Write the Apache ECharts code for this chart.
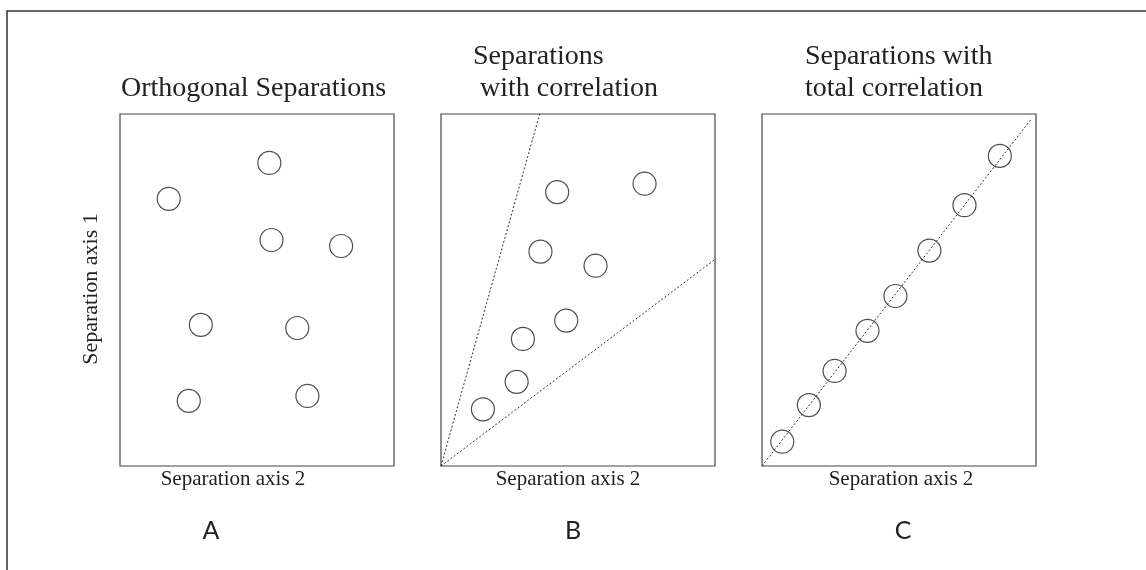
<!DOCTYPE html>
<html>
<head>
<meta charset="utf-8">
<title>Separations</title>
<script src="https://cdn.jsdelivr.net/npm/echarts@6/dist/echarts.min.js"></script>
<style>
  html, body { margin: 0; padding: 0; background: #fff; }
  #chart { width: 1146px; height: 570px; }
</style>
</head>
<body>
<div id="chart"></div>
<script>
// points in axis units, 0..100 on both axes of each panel
var pointsA = [[54.5, 86.1], [17.8, 75.9], [55.3, 64.2], [80.7, 62.5], [29.5, 40.1], [64.7, 39.2], [25.1, 18.5], [68.4, 19.9]];
var pointsB = [[42.4, 77.8], [74.3, 80.2], [36.3, 60.9], [56.4, 56.9], [45.7, 41.3], [29.9, 36.1], [27.6, 23.9], [15.3, 16.1]];
var pointsC = [[86.8, 88.1], [73.9, 74.1], [61.1, 61.2], [48.7, 48.3], [38.5, 38.4], [26.5, 27.0], [17.1, 17.3], [7.4, 6.9]];
// dotted guide lines
var lineB1 = [[0, 0], [36, 100]];
var lineB2 = [[0, 0], [100, 58.7]];
var lineC = [[0, 0], [98.5, 98.8]];

var panelTitles = [['Orthogonal Separations'], ['Separations', ' with correlation'], ['Separations with', 'total correlation']];
var panelLetters = ['A', 'B', 'C'];
var xName = 'Separation axis 2';
var yName = 'Separation axis 1';

var chart = echarts.init(document.getElementById('chart'));

var serif = '"Liberation Serif", "Times New Roman", serif';
var ink = '#222';
var lefts = [120, 441, 762];

function mkGrid(left) {
  return { left: left, top: 114, width: 274, height: 352, show: true,
           borderColor: '#444', borderWidth: 1.2, backgroundColor: 'transparent' };
}
function mkAxis(i) {
  return { type: 'value', gridIndex: i, min: 0, max: 100,
           axisLine: { show: false }, axisTick: { show: false },
           axisLabel: { show: false }, splitLine: { show: false } };
}
function scatter(i, data) {
  return { type: 'scatter', xAxisIndex: i, yAxisIndex: i, data: data,
           symbol: 'circle', symbolSize: 23, z: 3,
           itemStyle: { color: 'rgba(0,0,0,0)', borderColor: ink, borderWidth: 1.2 } };
}
function guide(i, data) {
  return { type: 'line', xAxisIndex: i, yAxisIndex: i, data: data,
           showSymbol: false, silent: true, z: 2,
           lineStyle: { color: '#333', width: 1, type: [2, 2] } };
}
function txt(str, x, y, size, font, align) {
  return { type: 'text', x: x, y: y, silent: true,
           style: { text: str, fill: ink, font: size + 'px ' + font,
                    align: align || 'left', verticalAlign: 'middle' } };
}

var graphics = [
  { type: 'rect', shape: { x: 7, y: 11, width: 1200, height: 620 },
    style: { fill: 'none', stroke: '#333', lineWidth: 1.5 }, silent: true }
];
// panel titles
graphics.push(txt(panelTitles[0][0], 121, 89, 28, serif));
graphics.push(txt(panelTitles[1][0], 473, 57, 28, serif));
graphics.push(txt(panelTitles[1][1], 473, 89, 28, serif));
graphics.push(txt(panelTitles[2][0], 805, 57, 28, serif));
graphics.push(txt(panelTitles[2][1], 805, 89, 28, serif));
// x axis names
graphics.push(txt(xName, 233, 479, 21, serif, 'center'));
graphics.push(txt(xName, 568, 479, 21, serif, 'center'));
graphics.push(txt(xName, 901, 479, 21, serif, 'center'));
// y axis name (rotated)
graphics.push({ type: 'text', x: 91, y: 289, rotation: Math.PI / 2, silent: true,
  style: { text: yName, fill: ink, font: '22px ' + serif, align: 'center', verticalAlign: 'middle' } });
// panel letters
var letterX = [211, 573, 903];
for (var k = 0; k < 3; k++) {
  graphics.push(txt(panelLetters[k], letterX[k], 531, 25, 'Lato, "Open Sans", sans-serif', 'center'));
}

var option = {
  animation: false,
  backgroundColor: '#fff',
  grid: lefts.map(mkGrid),
  xAxis: [0, 1, 2].map(mkAxis),
  yAxis: [0, 1, 2].map(mkAxis),
  series: [
    scatter(0, pointsA),
    guide(1, lineB1),
    guide(1, lineB2),
    scatter(1, pointsB),
    guide(2, lineC),
    scatter(2, pointsC)
  ],
  graphic: graphics
};
chart.setOption(option);
</script>
</body>
</html>
